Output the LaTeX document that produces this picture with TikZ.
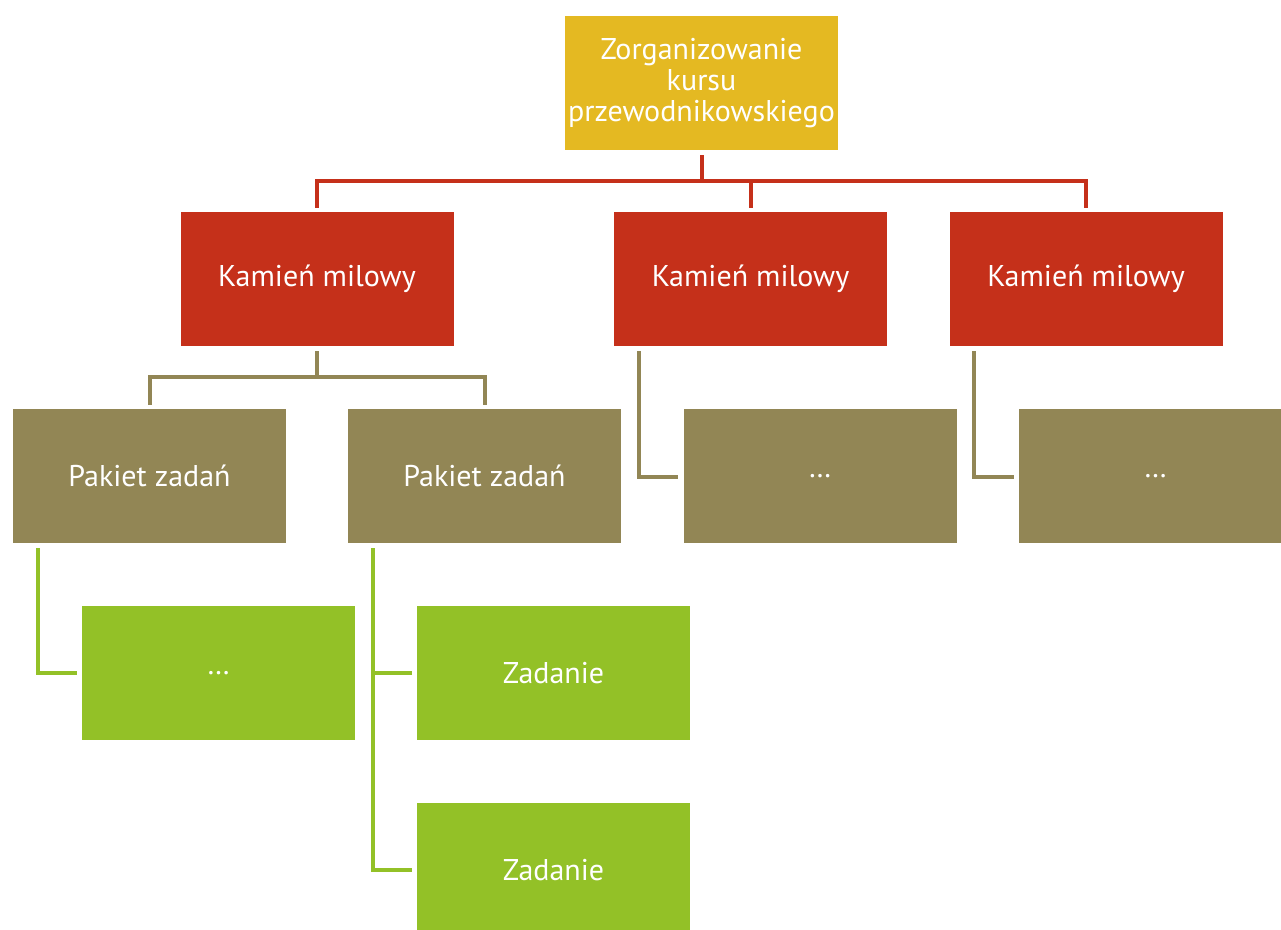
\documentclass[tikz,border=0pt]{standalone}
\usepackage{fontspec}
\setmainfont{PT Sans}
\usetikzlibrary{calc}
\definecolor{goldbox}{HTML}{E4B922}
\definecolor{redbox}{HTML}{C5301A}
\definecolor{olivebox}{HTML}{928655}
\definecolor{greenbox}{HTML}{93C127}
\begin{document}
\begin{tikzpicture}[x=1pt,y=-1pt,
  card/.style={rectangle,minimum width=273pt,minimum height=134pt,inner sep=0pt,
    text=white,font=\fontsize{30}{31}\selectfont,align=center},
  goal/.style={card,fill=goldbox},
  milestone/.style={card,fill=redbox},
  package/.style={card,fill=olivebox},
  task/.style={card,fill=greenbox},
  link/.style={line width=4pt,line join=miter},
  redlink/.style={link,draw=redbox},
  olivelink/.style={link,draw=olivebox},
  greenlink/.style={link,draw=greenbox}]
\useasboundingbox (0,0) rectangle (1281,929);
\clip (0,0) rectangle (1281,929);

% goal
\node[goal] (top) at (701.5,83) {Zorganizowanie\\kursu\\przewodnikowskiego};

% milestones
\node[milestone] (m1) at (317,279) {Kamień milowy};
\node[milestone] (m2) at (750.5,279) {Kamień milowy};
\node[milestone] (m3) at (1086,279) {Kamień milowy};

% work packages
\node[package] (p1) at (149.5,476) {Pakiet zadań};
\node[package] (p2) at (484.5,476) {Pakiet zadań};
\node[package] (p3) at (820,476) {…};
\node[package] (p4) at (1155.5,476) {…};

% tasks
\node[task] (g1) at (218.5,673) {…};
\node[task] (g2) at (553.5,673) {Zadanie};
\node[task] (g3) at (553.5,870) {Zadanie};

% goal -> milestones
\coordinate (bus) at (701.5,181);
\draw[redlink] ([yshift=-5pt]top.south) -- (bus);
\draw[redlink] ([yshift=4pt]m1.north) |- (bus) -| ([yshift=4pt]m3.north);
\draw[redlink] ([yshift=4pt]m2.north) -- (m2.north |- bus);

% milestone 1 -> packages
\coordinate (bus2) at (317,377);
\draw[olivelink] ([yshift=-5pt]m1.south) -- (bus2);
\draw[olivelink] ([yshift=4pt]p1.north) |- (bus2) -| ([yshift=4pt]p2.north);

% milestones 2, 3 -> packages
\draw[olivelink] ([xshift=25pt,yshift=-5pt]m2.south west) |- ([xshift=-5pt,yshift=-1pt]p3.west);
\draw[olivelink] ([xshift=25pt,yshift=-5pt]m3.south west) |- ([xshift=-5pt,yshift=-1pt]p4.west);

% packages -> tasks
\draw[greenlink] ([xshift=25pt,yshift=-5pt]p1.south west) |- ([xshift=-5pt]g1.west);
\draw[greenlink] ([xshift=25pt,yshift=-5pt]p2.south west) |- ([xshift=-5pt]g3.west);
\draw[greenlink] ([xshift=25pt]p2.south west |- g2.west) -- ([xshift=-5pt]g2.west);
\end{tikzpicture}
\end{document}
